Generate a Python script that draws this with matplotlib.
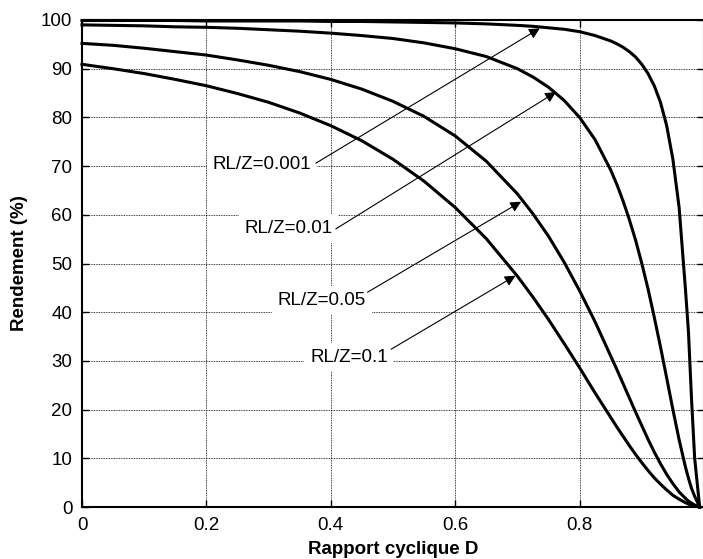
#!/usr/bin/env python3
import matplotlib
matplotlib.use("Agg")
import matplotlib.pyplot as plt

plt.rcParams['font.family'] = ['Liberation Sans', 'DejaVu Sans']

# duty cycle values (x) shared by all curves
D = [0, 0.05, 0.1, 0.15, 0.2, 0.25, 0.3, 0.35, 0.4, 0.45, 0.5, 0.55, 0.6,
     0.65, 0.7, 0.725, 0.75, 0.775, 0.8, 0.825, 0.85, 0.86, 0.87, 0.88,
     0.89, 0.9, 0.91, 0.92, 0.93, 0.94, 0.95, 0.96, 0.97, 0.975, 0.98,
     0.985, 0.993]

# efficiency (%)
eta_0001 = [99.9, 99.9, 99.9, 99.9, 99.8, 99.8, 99.8, 99.8, 99.7, 99.7, 99.6,
            99.5, 99.4, 99.2, 98.9, 98.7, 98.4, 98.1, 97.6, 96.8, 95.7, 95.1,
            94.4, 93.5, 92.4, 90.9, 89.0, 86.5, 83.1, 78.3, 71.4, 61.5, 45.0,
            36.0, 22.0, 10.0, 0]
eta_001 = [99.0, 98.9, 98.8, 98.6, 98.5, 98.3, 98.0, 97.7, 97.3, 96.8, 96.2,
           95.3, 94.1, 92.5, 90.0, 88.3, 86.2, 83.5, 80.0, 75.4, 69.2, 66.2,
           62.8, 59.0, 54.8, 50.0, 44.8, 39.0, 32.9, 26.5, 20.0, 13.8, 8.3,
           5.9, 3.8, 2.2, 0]
eta_005 = [95.2, 94.8, 94.2, 93.5, 92.8, 91.8, 90.7, 89.4, 87.8, 85.8, 83.3,
           80.2, 76.2, 71.0, 64.3, 60.2, 55.6, 50.3, 44.4, 38.0, 31.0, 28.2,
           25.3, 22.4, 19.5, 16.7, 13.9, 11.3, 8.9, 6.7, 4.8, 3.1, 1.8,
           1.2, 0.8, 0.4, 0]
eta_01 = [90.9, 90.0, 89.0, 87.8, 86.5, 84.9, 83.1, 80.9, 78.3, 75.2, 71.4,
          66.9, 61.5, 55.1, 47.4, 43.1, 38.5, 33.6, 28.6, 23.4, 18.4, 16.4,
          14.5, 12.6, 10.8, 9.1, 7.5, 6.0, 4.7, 3.5, 2.4, 1.6, 0.9,
          0.6, 0.4, 0.2, 0]

labels = ['RL/Z=0.001', 'RL/Z=0.01', 'RL/Z=0.05', 'RL/Z=0.1']
label_pos = [(0.289, 70.4), (0.332, 57.1), (0.386, 42.4), (0.429, 30.8)]
arrow_tail = [(0.376, 70.6), (0.408, 57.1), (0.459, 44.1), (0.497, 32.4)]
arrow_tip = [(0.736, 98.3), (0.762, 85.2), (0.706, 62.7), (0.697, 47.5)]

xticks = [0, 0.2, 0.4, 0.6, 0.8]
yticks = [0, 10, 20, 30, 40, 50, 60, 70, 80, 90, 100]

FS = 13.5

fig = plt.figure(figsize=(7.03, 5.59), dpi=100)
ax = fig.add_axes([82/703, 1 - 507/559, (704 - 82)/703, (507 - 20)/559])

for eta in [eta_0001, eta_001, eta_005, eta_01]:
    ax.plot(D, eta, color='k', lw=2.2, solid_joinstyle='round', clip_on=False, zorder=3)

for txt, pos, tail, tip in zip(labels, label_pos, arrow_tail, arrow_tip):
    ax.text(pos[0], pos[1], txt, fontsize=FS, ha='center', va='center', zorder=4,
            bbox=dict(boxstyle='square,pad=0.3', fc='white', ec='none'))
    ax.annotate('', xy=tip, xytext=tail, zorder=5,
                arrowprops=dict(arrowstyle='-|>', color='k', lw=0.8,
                                mutation_scale=16, shrinkA=0, shrinkB=0))

ax.set_xlim(0, 1)
ax.set_ylim(0, 100)
ax.set_xticks(xticks)
ax.set_xticklabels([str(x) for x in xticks])
ax.set_yticks(yticks)
ax.grid(True, color='k', linestyle=(0, (1, 1)), lw=0.6)
ax.tick_params(direction='in', length=5, width=1, labelsize=FS, pad=7,
               top=True, right=True)
for s in ax.spines.values():
    s.set_linewidth(1.5)

ax.set_xlabel('Rapport cyclique D', fontsize=FS, fontweight='bold', labelpad=5)
ax.set_ylabel('Rendement (%)', fontsize=FS, fontweight='bold', labelpad=9)

fig.savefig('out.png', dpi=100)
